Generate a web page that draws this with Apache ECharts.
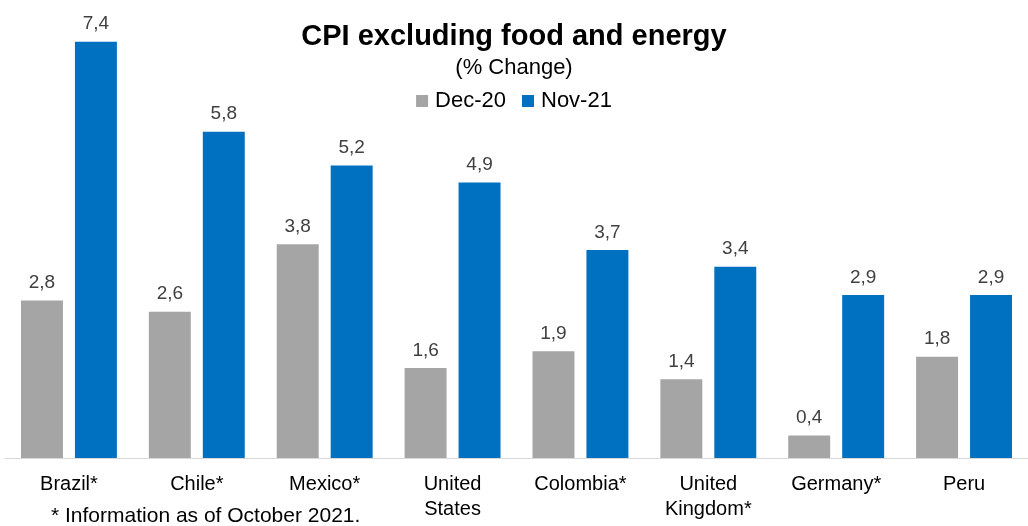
<!DOCTYPE html>
<html>
<head>
<meta charset="utf-8">
<script src="https://cdn.jsdelivr.net/npm/echarts@6/dist/echarts.min.js"></script>
<style>
  html, body { margin: 0; padding: 0; background: #fff; }
  #chart { width: 1028px; height: 526px; }
</style>
</head>
<body>
<div id="chart"></div>
<script>
// Core inflation by country, two snapshots
const countries = ['Brazil*', 'Chile*', 'Mexico*', 'United\nStates', 'Colombia*', 'United\nKingdom*', 'Germany*', 'Peru'];
const dec20 = [2.8, 2.6, 3.8, 1.6, 1.9, 1.4, 0.4, 1.8];
const nov21 = [7.4, 5.8, 5.2, 4.9, 3.7, 3.4, 2.9, 2.9];

const FONT = '"Liberation Sans", Arial, sans-serif';
const commaDecimal = p => p.value.toFixed(1).replace('.', ',');

const chart = echarts.init(document.getElementById('chart'), null, { renderer: 'canvas' });

const valueLabel = {
  show: true,
  position: 'top',
  distance: 8,
  formatter: commaDecimal,
  color: '#404040',
  fontFamily: FONT,
  fontSize: 19
};

chart.setOption({
  animation: false,
  backgroundColor: '#ffffff',
  title: [
    {
      text: 'CPI excluding food and energy',
      left: 'center',
      top: 17,
      textStyle: { fontFamily: FONT, fontSize: 29, fontWeight: 'bold', color: '#000' }
    },
    {
      text: '(% Change)',
      left: 'center',
      top: 52,
      textStyle: { fontFamily: FONT, fontSize: 22, fontWeight: 'normal', color: '#000' }
    },
    {
      text: '* Information as of October 2021.',
      left: 46,
      top: 501,
      textStyle: { fontFamily: FONT, fontSize: 21, fontWeight: 'normal', color: '#000' }
    }
  ],
  legend: {
    top: 85,
    left: 'center',
    icon: 'rect',
    itemWidth: 12,
    itemHeight: 12,
    itemGap: 16,
    textStyle: { fontFamily: FONT, fontSize: 22, color: '#000', padding: [0, 0, 0, 2] },
    data: ['Dec-20', 'Nov-21']
  },
  grid: { left: 5, right: 0, top: 8, bottom: 68, containLabel: false },
  xAxis: {
    type: 'category',
    data: countries,
    axisTick: { show: false },
    axisLine: { lineStyle: { color: '#d9d9d9', width: 1 } },
    axisLabel: {
      color: '#000',
      fontFamily: FONT,
      fontSize: 20,
      lineHeight: 25,
      margin: 14,
      interval: 0
    }
  },
  yAxis: {
    type: 'value',
    min: 0,
    max: 8,
    show: false,
    splitLine: { show: false }
  },
  series: [
    {
      name: 'Dec-20',
      type: 'bar',
      data: dec20,
      itemStyle: { color: '#A5A5A5' },
      barGap: '28.6%',
      barCategoryGap: '25%',
      label: valueLabel
    },
    {
      name: 'Nov-21',
      type: 'bar',
      data: nov21,
      itemStyle: { color: '#0070C0' },
      label: valueLabel
    }
  ]
});
</script>
</body>
</html>
